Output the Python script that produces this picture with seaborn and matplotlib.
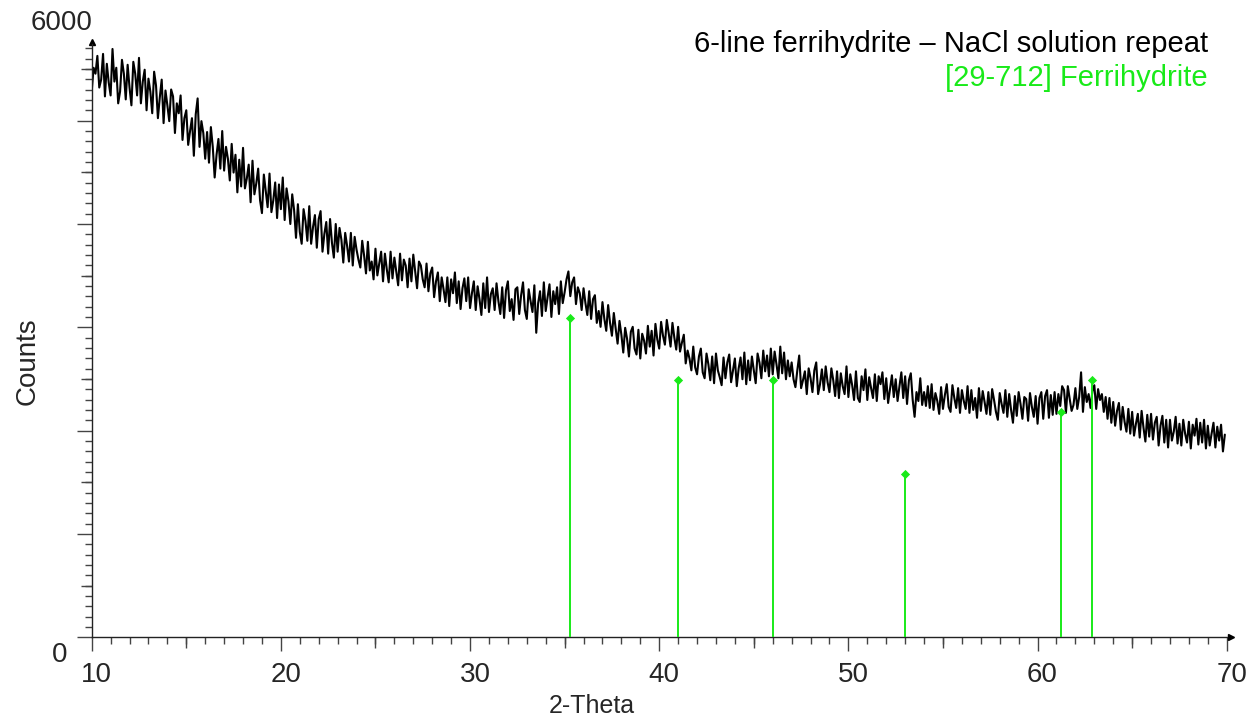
import numpy as np
import matplotlib
matplotlib.use("Agg")
import matplotlib.pyplot as plt
from matplotlib.ticker import MultipleLocator
from matplotlib.transforms import ScaledTranslation
import seaborn as sns

# scan: 2-theta from 10.0 in steps of 0.1 deg
theta_start = 10.0
theta_step = 0.1

# counts, one list per 10 degrees
counts_10 = [5520, 5760, 5700, 5880, 5560, 5640, 5900, 5470, 5800, 5610,
             5480, 5950, 5620, 5760, 5400, 5520, 5840, 5700, 5440, 5790,
             5560, 5380, 5820, 5700, 5480, 5860, 5400, 5620, 5740, 5330,
             5650, 5520, 5300, 5720, 5580, 5250, 5460, 5640, 5200, 5530,
             5380, 5220, 5540, 5470, 5100, 5400, 5300, 5480, 5030, 5250,
             5330, 4980, 5120, 5250, 4870, 5290, 5450, 4960, 5220, 5100,
             4840, 5110, 4800, 5160, 4960, 4650, 4880, 5040, 4740, 5120,
             4720, 4960, 4840, 4620, 4990, 4700, 4880, 4500, 4830, 4560,
             4950, 4540, 4640, 4780, 4400, 4820, 4480, 4590, 4740, 4420,
             4290, 4680, 4510, 4350, 4690, 4300, 4420, 4600, 4240, 4580]
counts_20 = [4330, 4650, 4220, 4540, 4410, 4180, 4480, 4320, 4040, 4380,
             4100, 3980, 4330, 4210, 4010, 4360, 3980, 4150, 4270, 3940,
             4230, 4310, 3900, 4080, 4200, 3880, 4230, 3990, 3840, 4180,
             3900, 4140, 4020, 3790, 4090, 3960, 3800, 4090, 3760, 4050,
             3920, 3820, 3740, 4010, 3860, 3680, 4000, 3710, 3800, 3620,
             3930, 3660, 3780, 3900, 3600, 3880, 3720, 3590, 3900, 3630,
             3840, 3700, 3560, 3880, 3610, 3820, 3760, 3540, 3830, 3600,
             3870, 3700, 3530, 3800, 3760, 3620, 3540, 3780, 3500, 3680,
             3740, 3440, 3600, 3690, 3400, 3640, 3520, 3390, 3640, 3350,
             3620, 3480, 3690, 3380, 3600, 3320, 3530, 3630, 3400, 3640]
counts_30 = [3330, 3480, 3600, 3310, 3550, 3420, 3260, 3580, 3330, 3640,
             3290, 3470, 3530, 3310, 3580, 3400, 3270, 3540, 3230, 3510,
             3600, 3300, 3420, 3210, 3520, 3540, 3270, 3460, 3590, 3310,
             3220, 3520, 3400, 3290, 3560, 3080, 3380, 3500, 3250, 3590,
             3300, 3440, 3570, 3240, 3500, 3370, 3540, 3270, 3600, 3380,
             3490, 3620, 3700, 3450, 3590, 3640, 3370, 3540, 3480, 3310,
             3530, 3380, 3260, 3500, 3220, 3420, 3460, 3180, 3300, 3140,
             3390, 3220, 3100, 3360, 3180, 3050, 3280, 3120, 2970, 3200,
             3060, 2880, 3130, 3020, 2840, 3090, 3140, 2920, 2860, 3110,
             2820, 3070, 3000, 2870, 3150, 2940, 3100, 2850, 3170, 3010]
counts_40 = [2920, 3190, 3050, 2960, 3210, 3080, 2940, 3180, 3030, 2910,
             3140, 2890, 2980, 3060, 2770, 2900, 2820, 2700, 2940, 2730,
             2660, 2840, 2920, 2680, 2620, 2870, 2760, 2600, 2840, 2570,
             2870, 2700, 2630, 2550, 2830, 2620, 2780, 2860, 2580, 2700,
             2820, 2540, 2720, 2830, 2610, 2880, 2560, 2800, 2600, 2840,
             2700, 2570, 2870, 2780, 2620, 2900, 2690, 2850, 2640, 2920,
             2660, 2890, 2760, 2620, 2940, 2670, 2880, 2610, 2800, 2640,
             2780, 2610, 2530, 2700, 2850, 2520, 2600, 2690, 2460, 2720,
             2620, 2480, 2700, 2780, 2460, 2560, 2710, 2500, 2740, 2580,
             2480, 2720, 2600, 2440, 2690, 2420, 2670, 2540, 2460, 2740]
counts_50 = [2430, 2660, 2550, 2400, 2690, 2420, 2380, 2640, 2500, 2710,
             2400, 2630, 2520, 2420, 2660, 2390, 2640, 2560, 2680, 2410,
             2620, 2370, 2510, 2650, 2430, 2610, 2390, 2540, 2680, 2420,
             2640, 2360, 2600, 2670, 2400, 2230, 2480, 2390, 2620, 2350,
             2480, 2340, 2540, 2320, 2560, 2300, 2470, 2390, 2260, 2530,
             2310, 2450, 2560, 2330, 2280, 2550, 2420, 2320, 2520, 2270,
             2500, 2390, 2310, 2540, 2270, 2500, 2300, 2420, 2220, 2520,
             2290, 2490, 2380, 2260, 2480, 2250, 2510, 2400, 2280, 2200,
             2470, 2360, 2270, 2500, 2230, 2460, 2300, 2170, 2440, 2240,
             2480, 2360, 2210, 2430, 2410, 2190, 2470, 2330, 2230, 2440]
counts_60 = [2160, 2420, 2480, 2210, 2440, 2500, 2220, 2450, 2250, 2480,
             2260, 2460, 2340, 2540, 2500, 2270, 2540, 2410, 2290, 2350,
             2520, 2310, 2430, 2680, 2280, 2530, 2380, 2460, 2320, 2490,
             2550, 2310, 2510, 2400, 2460, 2280, 2430, 2210, 2420, 2170,
             2380, 2140, 2290, 2370, 2100, 2330, 2180, 2080, 2310, 2060,
             2280, 2040, 2160, 2260, 2020, 2290, 2120, 1980, 2250, 2030,
             2260, 2000, 2170, 2230, 1940, 2140, 2240, 1970, 2200, 1920,
             2200, 1990, 2080, 2230, 1960, 2160, 1940, 2200, 2060, 1970,
             2180, 1910, 2150, 2040, 2210, 1950, 2170, 1970, 2200, 1910,
             2140, 1940, 2060, 2170, 1920, 2130, 1990, 2150, 1880, 2050]

# [29-712] Ferrihydrite reference sticks
peak_theta = [35.3, 41.0, 46.0, 53.0, 61.25, 62.9]
peak_counts = [3230, 2600, 2600, 1650, 2280, 2600]

sample_name = "6-line ferrihydrite \u2013 NaCl solution repeat"
ref_name = "[29-712] Ferrihydrite"
green = "#19ea19"

counts = np.array(counts_10 + counts_20 + counts_30 + counts_40 + counts_50 + counts_60)
theta = np.round(theta_start + theta_step * np.arange(len(counts)), 2)

sns.set_style("white")
plt.rcParams["font.family"] = ["Liberation Sans", "DejaVu Sans"]

fig = plt.figure(figsize=(12.51, 7.24), dpi=100)
ax = fig.add_axes([0.0733, 0.1197, 0.9073, 0.8195])

sns.lineplot(x=theta, y=counts, color="black", linewidth=1.5, ax=ax)
ax.vlines(peak_theta, 0, peak_counts, color=green, linewidth=1.4, zorder=3)
sns.scatterplot(x=peak_theta, y=peak_counts, marker="D", s=22, color=green,
                edgecolor=green, linewidth=0, ax=ax, zorder=4)

ax.set_xlim(10, 70)
ax.set_ylim(0, 6000)

for s in ["top", "right"]:
    ax.spines[s].set_visible(False)
for s in ["left", "bottom"]:
    ax.spines[s].set_color("#222222")
    ax.spines[s].set_linewidth(1.0)

# axis arrows
ax.plot([1.004], [0], marker=">", color="black", ms=5, transform=ax.transAxes, clip_on=False)
ax.plot([0], [1.004], marker="^", color="black", ms=5, transform=ax.transAxes, clip_on=False)

tick_col = "#444444"
ax.tick_params(which="both", bottom=True, left=True)
ax.xaxis.set_major_locator(MultipleLocator(10))
ax.xaxis.set_minor_locator(MultipleLocator(1))
ax.tick_params(axis="x", which="major", direction="out", length=10, width=1, color=tick_col,
               labelsize=20, pad=8)
ax.tick_params(axis="x", which="minor", direction="out", length=5, width=1, color=tick_col)

y_minor = 6000 / 57.43
ax.yaxis.set_major_locator(MultipleLocator(10 * y_minor))
ax.yaxis.set_minor_locator(MultipleLocator(y_minor))
ax.tick_params(axis="y", which="major", direction="out", length=11, width=1, color=tick_col,
               labelleft=False)
ax.tick_params(axis="y", which="minor", direction="out", length=5, width=1, color=tick_col)

# medium ticks at the halves
secx = ax.secondary_xaxis("bottom")
secx.set_xticks(np.arange(15, 70, 10))
secx.tick_params(direction="out", length=8, width=1, color=tick_col, labelbottom=False)
secx.spines["bottom"].set_visible(False)
secy = ax.secondary_yaxis("left")
secy.set_yticks(np.arange(5, 60, 10) * y_minor)
secy.tick_params(direction="out", length=8, width=1, color=tick_col, labelleft=False)
secy.spines["left"].set_visible(False)

shift = ScaledTranslation(5 / 100, 0, fig.dpi_scale_trans)
for lab in ax.get_xticklabels():
    lab.set_transform(lab.get_transform() + shift)

ax.text(-0.021, -0.008, "0", transform=ax.transAxes, ha="right", va="top", fontsize=20)
ax.text(0.001, 1.013, "6000", transform=ax.transAxes, ha="right", va="bottom", fontsize=20)

ax.set_xlabel("2-Theta", fontsize=18)
ax.set_ylabel("Counts", fontsize=20)
ax.xaxis.set_label_coords(0.441, -0.095)
ax.yaxis.set_label_coords(-0.0446, 0.466)

ax.text(0.9835, 1.0, sample_name, transform=ax.transAxes, ha="right", va="center",
        fontsize=21, color="black")
ax.text(0.9835, 0.943, ref_name, transform=ax.transAxes, ha="right", va="center",
        fontsize=21, color=green)

fig.savefig("out.png", dpi=100)
